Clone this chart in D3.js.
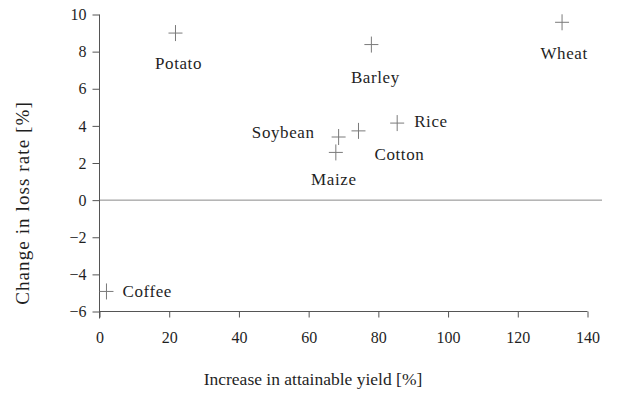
<!DOCTYPE html>
<html>
<head>
<meta charset="utf-8">
<script src="https://cdn.jsdelivr.net/npm/d3@7"></script>
<style>
  body { margin: 0; background: #fff; }
  svg { display: block; }
  text { font-family: "Liberation Serif", "Times New Roman", serif; fill: #1f1f1f; }
  .axis path, .axis line { stroke: #555; }
</style>
</head>
<body>
<div id="chart"></div>
<script>
// crops
const crops = ["Potato", "Barley", "Wheat", "Soybean", "Maize", "Cotton", "Rice", "Coffee"];
const yieldGain = [21.8, 78, 132.7, 68.6, 67.8, 74.3, 85.4, 2];
const lossChange = [9.0, 8.38, 9.58, 3.4, 2.57, 3.73, 4.15, -4.92];
const xTicks = [0, 20, 40, 60, 80, 100, 120, 140];
const yTicks = [-6, -4, -2, 0, 2, 4, 6, 8, 10];

const width = 618, height = 394;

const x = d3.scaleLinear().domain([0, 140]).range([99.5, 587.5]);
const y = d3.scaleLinear().domain([-6, 10]).range([311.5, 14.5]);

const svg = d3.select("#chart")
    .append("svg")
    .attr("width", width)
    .attr("height", height);

// zero line
svg.append("line")
    .attr("x1", x(0)).attr("x2", 602)
    .attr("y1", y(0)).attr("y2", y(0))
    .style("stroke", "#8a8a8a");

const fmt = d => d < 0 ? "\u2212" + Math.abs(d) : d;

const xAxis = svg.append("g")
    .attr("class", "axis")
    .attr("font-family", null)
    .attr("transform", `translate(0,${y(-6)})`)
    .call(d3.axisBottom(x).tickValues(xTicks).tickSize(6).tickSizeOuter(0).tickPadding(14))
    .call(g => g.select(".domain").remove());

xAxis.append("line")
    .attr("x1", x(0)).attr("x2", x(140))
    .style("stroke", "#555");

xAxis.selectAll("text").style("font-size", "16px").style("fill", "#1f1f1f");

const yAxis = svg.append("g")
    .attr("class", "axis")
    .attr("font-family", null)
    .attr("transform", `translate(${x(0)},0)`)
    .call(d3.axisLeft(y).tickValues(yTicks).tickFormat(fmt).tickSize(7).tickSizeOuter(0).tickPadding(6))
    .call(g => g.select(".domain").remove());

yAxis.append("line")
    .attr("y1", y(10)).attr("y2", y(-6) + 7)
    .style("stroke", "#555");

yAxis.selectAll("text").style("font-size", "16px").style("fill", "#1f1f1f");

// label placement next to each cross
const labelPos = {
    Potato:  { dx: 3,   dy: 36, anchor: "middle" },
    Barley:  { dx: 4,   dy: 38, anchor: "middle" },
    Wheat:   { dx: 2,   dy: 37, anchor: "middle" },
    Soybean: { dx: -24, dy: 1,  anchor: "end" },
    Maize:   { dx: -2,  dy: 33, anchor: "middle" },
    Cotton:  { dx: 16,  dy: 29, anchor: "start" },
    Rice:    { dx: 17,  dy: 4,  anchor: "start" },
    Coffee:  { dx: 16,  dy: 6,  anchor: "start" }
};

const points = crops.map((name, i) => ({ name, gain: yieldGain[i], loss: lossChange[i] }));

const marks = svg.selectAll(".mark")
    .data(points)
    .enter()
    .append("g")
    .attr("class", "mark")
    .attr("transform", d => `translate(${x(d.gain)},${y(d.loss)})`);

marks.append("path")
    .attr("d", "M-7,0H7M0,-8V8")
    .style("stroke", "#7a7a7a")
    .style("stroke-width", 1)
    .style("fill", "none");

marks.append("text")
    .attr("x", d => labelPos[d.name].dx)
    .attr("y", d => labelPos[d.name].dy)
    .attr("text-anchor", d => labelPos[d.name].anchor)
    .style("font-size", "17px")
    .style("letter-spacing", "0.6px")
    .text(d => d.name);

// axis titles
svg.append("text")
    .attr("x", 313)
    .attr("y", 385)
    .attr("text-anchor", "middle")
    .style("font-size", "17.5px")
    .text("Increase in attainable yield [%]");

svg.append("text")
    .attr("transform", "translate(29,203) rotate(-90)")
    .attr("text-anchor", "middle")
    .style("font-size", "19px")
    .style("letter-spacing", "1.1px")
    .text("Change in loss rate [%]");
</script>
</body>
</html>
